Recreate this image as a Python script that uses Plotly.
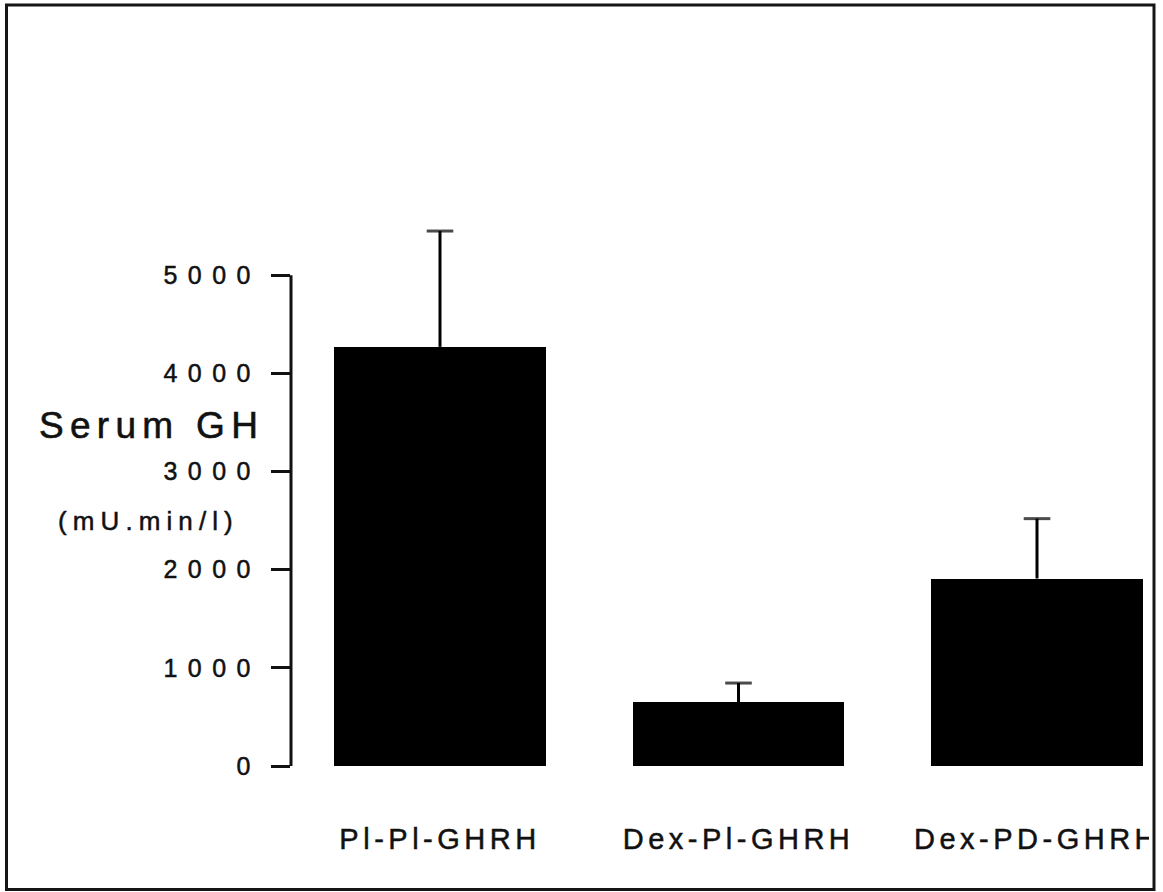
import plotly.graph_objects as go

# Serum GH response (area under curve) for the three treatment groups
categories = ["Pl-Pl-GHRH", "Dex-Pl-GHRH", "Dex-PD-GHRH"]
gh_mean = [4270, 650, 1910]
gh_sem = [1180, 195, 610]
y_ticks = [0, 1000, 2000, 3000, 4000, 5000]

# Canvas and plot-area geometry (pixels)
W, H = 1163, 892
ML, MR, MT, MB = 291, 0, 100, 126
PW, PH = W - ML - MR, H - MT - MB
PX_PER_UNIT = 0.09816            # vertical pixels per mU.min/l
Y_MAX = PH / PX_PER_UNIT
CAT_STEP = 298.5                 # pixels between category centres
FIRST_CENTRE = 440

FONT = "Liberation Sans, Arial, Helvetica, sans-serif"
INK = "#111111"


def spaced(text, px, weight=0.5):
    # widely tracked text with a slightly heavier stroke
    return (f'<span style="letter-spacing:{px}px;stroke:{INK};'
            f'stroke-width:{weight}px">{text}</span>')


def paper_x(px):
    return (px - ML) / PW


def paper_y(py):
    return (H - MB - py) / PH


fig = go.Figure()

fig.add_trace(go.Bar(
    x=categories,
    y=gh_mean,
    width=0.707,
    marker=dict(color="black", line=dict(width=0)),
    showlegend=False,
    hoverinfo="skip",
))

# upper-only error bars: stem from the bar top up to mean + SEM, capped
err_x, err_y, cap_size = [], [], []
for c, m, s in zip(categories, gh_mean, gh_sem):
    err_x += [c, c, None]
    err_y += [m, m + s, None]
    cap_size += [0, 19, 0]

fig.add_trace(go.Scatter(
    x=err_x,
    y=err_y,
    mode="lines+markers",
    line=dict(color="black", width=3),
    marker=dict(symbol="line-ew", size=cap_size,
                line=dict(color="black", width=3), color="black"),
    showlegend=False,
    hoverinfo="skip",
    connectgaps=False,
))

x_lo = -(FIRST_CENTRE - ML) / CAT_STEP
x_hi = x_lo + PW / CAT_STEP

fig.update_xaxes(
    range=[x_lo, x_hi],
    showline=False, showgrid=False, zeroline=False,
    ticks="",
    tickvals=categories,
    ticktext=[spaced(c, 4.5) for c in categories],
    tickfont=dict(family=FONT, size=29, color=INK),
    ticklabelstandoff=53,
)

fig.update_yaxes(
    range=[0, Y_MAX],
    showline=False, showgrid=False, zeroline=False,
    ticks="outside", ticklen=19, tickwidth=3, tickcolor=INK,
    tickvals=y_ticks,
    ticktext=[spaced(str(v), 10.5) for v in y_ticks],
    tickfont=dict(family=FONT, size=25, color=INK),
    ticklabelstandoff=5,
)

shapes = [
    # vertical axis line from 0 to 5000
    dict(type="line", xref="paper", yref="y", x0=0, x1=0,
         y0=y_ticks[0], y1=y_ticks[-1],
         line=dict(color=INK, width=3), layer="above"),
    # right edge of the panel trims the last category label
    dict(type="rect", xref="paper", yref="paper",
         x0=paper_x(1149), x1=paper_x(W + 2),
         y0=paper_y(875), y1=paper_y(805),
         fillcolor="white", line=dict(width=0), layer="above"),
    # panel border
    dict(type="rect", xref="paper", yref="paper",
         x0=paper_x(6.5), x1=paper_x(1154),
         y0=paper_y(889.5), y1=paper_y(5),
         fillcolor="rgba(0,0,0,0)", line=dict(color="#151515", width=3),
         layer="above"),
]

annotations = [
    dict(text=spaced("Serum GH", 6.3, 0.6), xref="paper", yref="paper",
         x=paper_x(151), y=paper_y(425), xanchor="center", yanchor="middle",
         showarrow=False, font=dict(family=FONT, size=37, color=INK)),
    dict(text=spaced("(mU.min/l)", 6.1), xref="paper", yref="paper",
         x=paper_x(148), y=paper_y(521), xanchor="center", yanchor="middle",
         showarrow=False, font=dict(family=FONT, size=26, color=INK)),
]

fig.update_layout(
    width=W, height=H,
    margin=dict(l=ML, r=MR, t=MT, b=MB, pad=0),
    paper_bgcolor="white", plot_bgcolor="white",
    shapes=shapes,
    annotations=annotations,
    bargap=0,
)

fig.write_html("out.html")
